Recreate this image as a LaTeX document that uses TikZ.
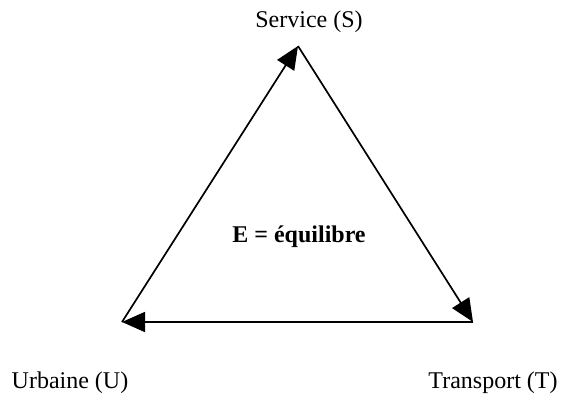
\documentclass[tikz,border=0pt]{standalone}
\usepackage{fontspec}
\setmainfont{Liberation Serif}
\usetikzlibrary{arrows.meta}
\begin{document}
\begin{tikzpicture}[x=1pt,y=-1pt,
  edge/.style={line width=1.7pt,-{Triangle[length=23pt,width=20pt]}},
  lbl/.style={font=\fontsize{24}{28}\selectfont,anchor=base,inner sep=0pt}]
\useasboundingbox (0,0) rectangle (561,396);
\coordinate (S) at (298,46);
\coordinate (U) at (122,322);
\coordinate (T) at (473,322);
\node[lbl] (ls) at (309,28) {Service (S)};
\node[lbl] (lu) at (70,388) {Urbaine (U)};
\node[lbl] (lt) at (493,388) {Transport (T)};
\node[lbl,font=\fontsize{24}{28}\selectfont\bfseries] (le) at (299,242) {E = équilibre};
\draw[edge] (U) -- (S);
\draw[edge] (S) -- (T);
\draw[edge] (T) -- (U);
\end{tikzpicture}
\end{document}
